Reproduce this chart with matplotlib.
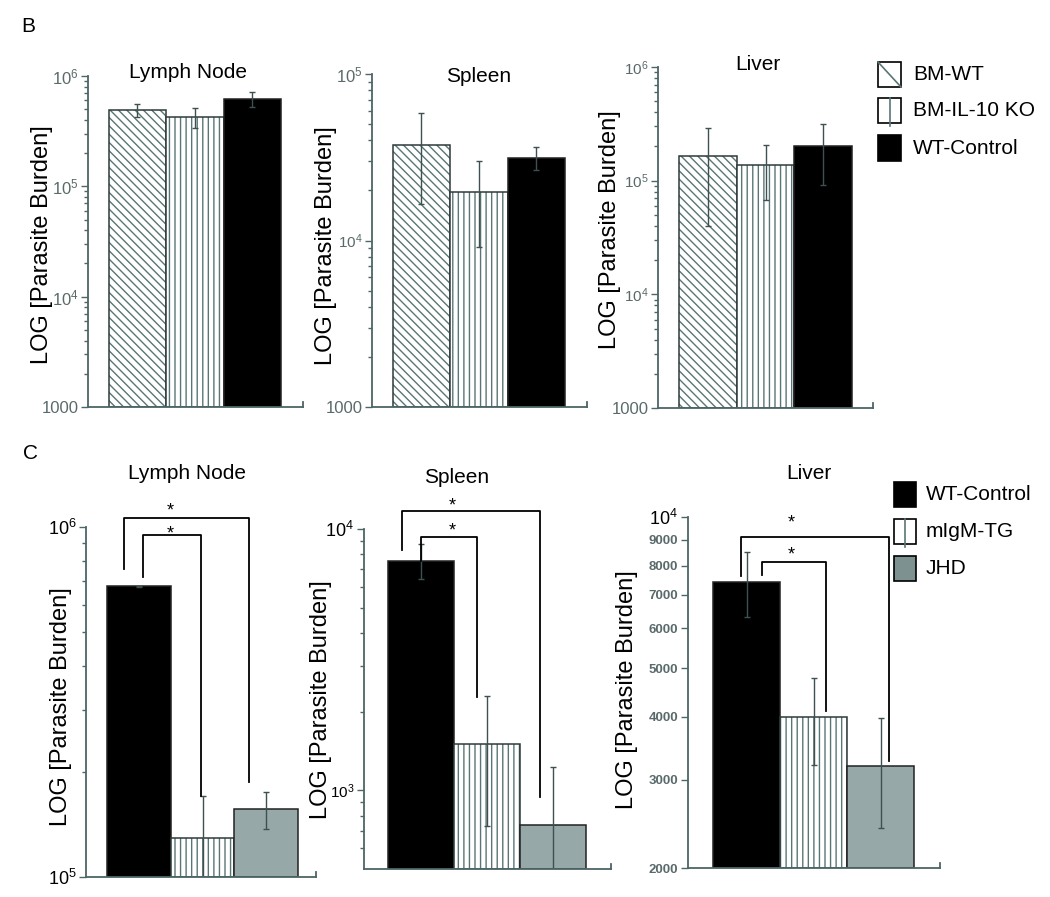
import numpy as np
import matplotlib
matplotlib.use("Agg")
import matplotlib.pyplot as plt
from matplotlib.patches import Rectangle
from matplotlib.lines import Line2D
from matplotlib.ticker import FixedLocator, FixedFormatter, NullFormatter

plt.rcParams['font.family'] = ['Liberation Sans', 'DejaVu Sans']
plt.rcParams['mathtext.fontset'] = 'custom'
plt.rcParams['mathtext.rm'] = 'Liberation Sans'
plt.rcParams['hatch.linewidth'] = 1.0

W, H = 1050, 897

# ---------------------------------------------------------------------------
# dados
# ---------------------------------------------------------------------------
grupos_b = ["BM-WT", "BM-IL-10 KO", "WT-Control"]
grupos_c = ["WT-Control", "mIgM-TG", "JHD"]
orgaos = ["Lymph Node", "Spleen", "Liver"]

b_lymph = [4.9e5, 4.25e5, 6.15e5]
b_lymph_err = [0.68e5, 0.9e5, 0.95e5]
b_spleen = [3.75e4, 1.96e4, 3.14e4]
b_spleen_err = [2.1e4, 1.05e4, 0.5e4]
b_liver = [1.65e5, 1.36e5, 2.03e5]
b_liver_err = [1.25e5, 0.68e5, 1.12e5]

c_lymph = [6.78e5, 1.29e5, 1.56e5]
c_lymph_err = [0.02e5, 0.41e5, 0.19e5]
c_spleen = [7.57e3, 1.51e3, 0.734e3]
c_spleen_err = [1.16e3, 0.78e3, 0.49e3]
c_liver = [7.41e3, 4.0e3, 3.19e3]
c_liver_err = [1.1e3, 0.79e3, 0.79e3]

# colchetes de significância: (x_esq, x_dir, y_topo, y_fim_esq, y_fim_dir)
sig_lymph = [(-0.24, 1.73, 1.06e6, 7.6e5, 1.87e5), (0.07, 0.98, 9.5e5, 7.2e5, 1.70e5)]
sig_spleen = [(-0.29, 1.80, 1.17e4, 8.3e3, 944), (0.0, 0.85, 9.3e3, 7.57e3, 2.28e3)]
sig_liver = [(-0.09, 2.13, 9.12e3, 7.64e3, 3.27e3), (0.23, 1.19, 8.13e3, 7.67e3, 4.11e3)]

# ---------------------------------------------------------------------------
# estilos
# ---------------------------------------------------------------------------
SPINE = "#4d6666"
HATCH = "#5a7575"
ERR = "#3e5050"
GRAY_TXT = "#5a6a6a"
JHD = "#97a8a8"

est = {"BM-WT": dict(fc="white", hatch="\\\\\\\\"),
       "BM-IL-10 KO": dict(fc="white", hatch="|||"),
       "WT-Control": dict(fc="black", hatch=None),
       "mIgM-TG": dict(fc="white", hatch="|||"),
       "JHD": dict(fc=JHD, hatch=None)}

def sup(n):
    return r"$\mathregular{10^{%d}}$" % n

fig = plt.figure(figsize=(W / 100, H / 100), dpi=100)

def px(x, y):
    return x / W, 1 - y / H

def make_ax(box, xlim, ylim):
    x0, y0, x1, y1 = box
    ax = fig.add_axes([x0 / W, 1 - y1 / H, (x1 - x0) / W, (y1 - y0) / H])
    ax.set_yscale("log")
    ax.set_xlim(*xlim); ax.set_ylim(*ylim)
    for s in ("top", "right"):
        ax.spines[s].set_visible(False)
    for s in ("left", "bottom"):
        ax.spines[s].set_color(SPINE); ax.spines[s].set_linewidth(1.3)
    ax.set_xticks([])
    ax.tick_params(axis="y", which="major", direction="out", length=5, width=1, color=SPINE, pad=2)
    ax.tick_params(axis="y", which="minor", direction="out", length=3, width=1, color=SPINE)
    ax.plot([1, 1], [0, 0.015], transform=ax.transAxes, color=SPINE, lw=1.3, clip_on=False)
    return ax

def draw_bars(ax, grupos, vals, errs):
    x = np.arange(len(vals))
    bot = ax.get_ylim()[0]
    for i, g in enumerate(grupos):
        st = est[g]
        h = vals[i] - bot
        if st["hatch"]:
            ax.bar(x[i], h, bottom=bot, width=1.0, color=st["fc"], edgecolor=HATCH,
                   hatch=st["hatch"], linewidth=0)
            ax.bar(x[i], h, bottom=bot, width=1.0, fill=False, edgecolor="#2e3a3a", linewidth=1.1)
        else:
            ax.bar(x[i], h, bottom=bot, width=1.0, color=st["fc"], edgecolor="#222222", linewidth=1.1)
    ax.errorbar(x, vals, yerr=errs, fmt="none", ecolor=ERR, elinewidth=1.0, capsize=2.5, capthick=1.0)

def set_yticks(ax, ticks, labels, colors, sizes, minor=None):
    ax.yaxis.set_major_locator(FixedLocator(ticks))
    ax.yaxis.set_major_formatter(FixedFormatter(labels))
    ax.yaxis.set_minor_locator(FixedLocator(minor if minor is not None else []))
    ax.yaxis.set_minor_formatter(NullFormatter())
    for lab, c, s in zip(ax.get_yticklabels(), colors, sizes):
        lab.set_color(c); lab.set_fontsize(s)

def brackets(ax, sigs, star_x, star_dy):
    for (xl, xr, yt, yle, yre), dy in zip(sigs, star_dy):
        ax.plot([xl, xl, xr, xr], [yle, yt, yt, yre], color="black", lw=1.3, clip_on=False)
        ax.annotate("*", xy=(star_x, yt), xytext=(0, dy), textcoords="offset pixels",
                    ha="center", va="center", fontsize=13, annotation_clip=False)

def minors(lo_dec, hi_dec):
    return [m * 10.0 ** d for d in range(lo_dec, hi_dec) for m in range(2, 10)]

# ---------------------------------------------------------------------------
# painel B
# ---------------------------------------------------------------------------
ax = make_ax((88, 76, 303, 407), (-0.86, 2.88), (1e3, 1e6))
draw_bars(ax, grupos_b, b_lymph, b_lymph_err)
set_yticks(ax, [1e3, 1e4, 1e5, 1e6], ["1000", sup(4), sup(5), sup(6)], [GRAY_TXT] * 4,
           [12, 12, 12, 12], minors(3, 6))

ax = make_ax((372, 74, 587, 407), (-0.86, 2.88), (1e3, 1e5))
draw_bars(ax, grupos_b, b_spleen, b_spleen_err)
set_yticks(ax, [1e3, 1e4, 1e5], ["1000", sup(4), sup(5)], [GRAY_TXT] * 3, [12, 11, 12], minors(3, 5))

ax = make_ax((658, 67, 873, 408), (-0.87, 2.87), (1e3, 1e6))
draw_bars(ax, grupos_b, b_liver, b_liver_err)
set_yticks(ax, [1e3, 1e4, 1e5, 1e6], ["1000", sup(4), sup(5), sup(6)], [GRAY_TXT] * 4,
           [12, 11, 11, 11], minors(3, 6))

# ---------------------------------------------------------------------------
# painel C
# ---------------------------------------------------------------------------
ax = make_ax((86, 527, 316, 877), (-0.83, 2.78), (1e5, 1e6))
draw_bars(ax, grupos_c, c_lymph, c_lymph_err)
set_yticks(ax, [1e5, 1e6], [sup(5), sup(6)], ["black"] * 2, [13, 13], minors(5, 6))
brackets(ax, sig_lymph, 0.5, [7, 1])

ax = make_ax((364, 529, 611, 869), (-0.86, 2.88), (500, 1e4))
draw_bars(ax, grupos_c, c_spleen, c_spleen_err)
set_yticks(ax, [1e3, 1e4], [sup(3), sup(4)], ["black"] * 2, [11, 13],
           [600, 700, 800, 900] + minors(3, 4))
brackets(ax, sig_spleen, 0.47, [5, 6])

liver_ticks = [2000, 3000, 4000, 5000, 6000, 7000, 8000, 9000, 1e4]
ax = make_ax((688, 517, 940, 868), (-0.88, 2.89), (2000, 1e4))
draw_bars(ax, grupos_c, c_liver, c_liver_err)
set_yticks(ax, liver_ticks, [str(int(t)) for t in liver_ticks[:-1]] + [sup(4)],
           [GRAY_TXT] * 8 + ["black"], [9.5] * 8 + [13])
for lab in ax.get_yticklabels()[:-1]:
    lab.set_fontweight("bold")
brackets(ax, sig_liver, 0.66, [14, 7])

# ---------------------------------------------------------------------------
# textos
# ---------------------------------------------------------------------------
for (x, y) in [(42, 245), (326, 246), (610, 230), (61, 707), (321, 700), (627, 690)]:
    fig.text(*px(x, y), "LOG [Parasite Burden]", rotation=90, ha="center", va="center", fontsize=17)

for nome, (x, y) in zip(orgaos * 2, [(188, 72), (479, 77), (758, 65), (187, 473), (457, 477), (809, 473)]):
    fig.text(*px(x, y), nome, ha="center", va="center", fontsize=15)

fig.text(*px(28, 27), "B", ha="center", va="center", fontsize=15)
fig.text(*px(30, 453), "C", ha="center", va="center", fontsize=15)

# legendas desenhadas à mão (caixinhas com um único traço, como no original)
def leg_box(x0, y0, x1, y1, fc, marca=None):
    bx, by = px(x0, y1)
    fig.patches.append(Rectangle((bx, by), (x1 - x0) / W, (y1 - y0) / H, transform=fig.transFigure,
                                 facecolor=fc, edgecolor="black", linewidth=1.2))
    if marca == "diag":
        fig.lines.append(Line2D([x0 / W, x1 / W], [1 - y0 / H, 1 - y1 / H], transform=fig.transFigure,
                                color=HATCH, lw=1.2))
    elif marca == "vert":
        xm = (x0 + x1) / 2 / W
        fig.lines.append(Line2D([xm, xm], [1 - y0 / H, 1 - (y1 + 3) / H], transform=fig.transFigure,
                                color=HATCH, lw=1.2))

leg_b = [("BM-WT", "white", "diag"), ("BM-IL-10 KO", "white", "vert"), ("WT-Control", "black", None)]
for (lab, fc, m), (y0, y1) in zip(leg_b, [(62, 87), (98, 123), (135, 161)]):
    leg_box(878, y0, 901, y1, fc, m)
    fig.text(*px(913, (y0 + y1) / 2), lab, ha="left", va="center", fontsize=15)

leg_c = [("WT-Control", "black", None), ("mIgM-TG", "white", "vert"), ("JHD", "#7d9191", None)]
for (lab, fc, m), (y0, y1) in zip(leg_c, [(482, 507), (519, 544), (556, 581)]):
    leg_box(894, y0, 916, y1, fc, m)
    fig.text(*px(926, (y0 + y1) / 2), lab, ha="left", va="center", fontsize=15)

fig.savefig("out.png", dpi=100)
